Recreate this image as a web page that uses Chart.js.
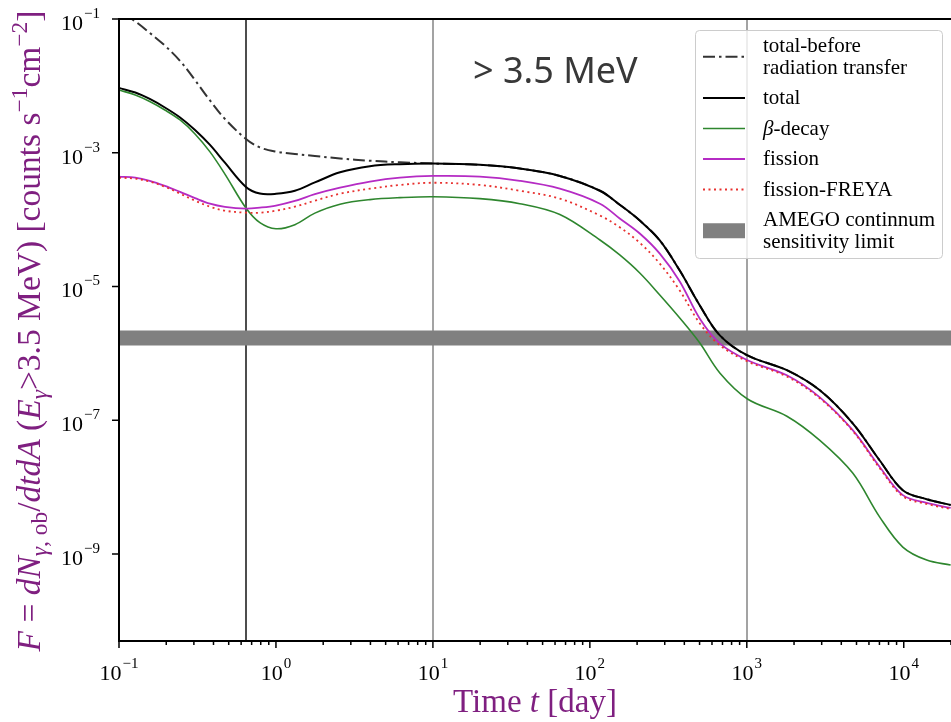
<!DOCTYPE html>
<html>
<head>
<meta charset="utf-8">
<title>Gamma-ray light curve above 3.5 MeV</title>
<script src="https://cdn.jsdelivr.net/npm/chart.js@4.4.0/dist/chart.umd.min.js"></script>
<style>
  html, body { margin: 0; padding: 0; background: #fff; overflow: hidden; }
</style>
</head>
<body>
<canvas id="chart" width="951" height="722"></canvas>
<script>
// Time after merger [day] and observed flux above 3.5 MeV [counts s^-1 cm^-2]
const times = [0.1, 0.127, 0.157, 0.196, 0.245, 0.305, 0.38, 0.473, 0.644, 0.79,
  1, 1.32, 1.77, 2.56, 3.97, 6.17, 10, 19.9, 35.8, 64.4,
  116, 155, 208, 279, 374, 502, 673, 1010, 1800, 2920,
  4730, 7030, 9860, 14000, 19900];

const totalBeforeRT = [0.136, 9.2e-2, 6.2e-2, 4.0e-2, 2.36e-2, 1.22e-2, 6.05e-3, 3.2e-3, 1.61e-3, 1.2e-3,
  1.04e-3, 9.6e-4, 8.95e-4, 8.2e-4, 7.6e-4, 7.2e-4, 6.9e-4, 6.6e-4, 5.8e-4, 4.5e-4,
  2.7e-4, 1.67e-4, 9.7e-5, 4.9e-5, 1.73e-5, 5.2e-6, 1.86e-6, 9.3e-7, 5.6e-7, 2.8e-7,
  9.0e-8, 2.5e-8, 9.0e-9, 6.6e-9, 5.4e-9];

const total = [9.3e-3, 7.96e-3, 6.37e-3, 4.75e-3, 3.37e-3, 2.19e-3, 1.31e-3, 7.1e-4, 3.08e-4, 2.45e-4,
  2.43e-4, 2.7e-4, 3.6e-4, 5.1e-4, 6.3e-4, 6.75e-4, 6.9e-4, 6.6e-4, 5.8e-4, 4.5e-4,
  2.7e-4, 1.67e-4, 9.7e-5, 4.9e-5, 1.73e-5, 5.2e-6, 1.86e-6, 9.3e-7, 5.6e-7, 2.8e-7,
  9.0e-8, 2.5e-8, 9.0e-9, 6.6e-9, 5.4e-9];

const betaDecay = [8.68e-3, 7.31e-3, 5.84e-3, 4.36e-3, 3.09e-3, 1.91e-3, 1.03e-3, 4.8e-4, 1.49e-4, 9.0e-5,
  7.3e-5, 8.4e-5, 1.25e-4, 1.7e-4, 1.99e-4, 2.13e-4, 2.2e-4, 2.06e-4, 1.73e-4, 1.19e-4,
  4.96e-5, 2.96e-5, 1.59e-5, 7.47e-6, 3.38e-6, 1.43e-6, 5.1e-7, 2.08e-7, 1.15e-7, 5.0e-8,
  1.62e-8, 3.56e-9, 1.27e-9, 8.1e-10, 6.85e-10];

const fission = [4.4e-4, 4.24e-4, 3.8e-4, 3.2e-4, 2.6e-4, 2.1e-4, 1.73e-4, 1.55e-4, 1.46e-4, 1.51e-4,
  1.62e-4, 1.9e-4, 2.4e-4, 3.0e-4, 3.7e-4, 4.24e-4, 4.5e-4, 4.4e-4, 3.8e-4, 2.9e-4,
  1.73e-4, 1.04e-4, 6.2e-5, 3.1e-5, 1.19e-5, 3.3e-6, 1.41e-6, 7.9e-7, 4.7e-7, 2.2e-7,
  7.1e-8, 2.0e-8, 7.6e-9, 5.8e-9, 4.9e-9];

const fissionFreya = [4.24e-4, 4.1e-4, 3.7e-4, 3.1e-4, 2.45e-4, 1.92e-4, 1.56e-4, 1.36e-4, 1.27e-4, 1.27e-4,
  1.36e-4, 1.56e-4, 1.92e-4, 2.44e-4, 2.9e-4, 3.3e-4, 3.56e-4, 3.3e-4, 2.7e-4, 2.06e-4,
  1.15e-4, 7.7e-5, 4.5e-5, 2.2e-5, 8.7e-6, 2.8e-6, 1.32e-6, 7.6e-7, 4.5e-7, 2.13e-7,
  6.9e-8, 1.92e-8, 7.3e-9, 5.6e-9, 4.7e-9];

// AMEGO continuum sensitivity and the vertical reference epochs [day]
const amegoLimit = 1.7e-6;
const markerDays = [0.644, 10, 1000];

// Axis ranges and labelled decades
const xMin = 0.1, xMax = 2e4;
const yMin = 5e-11, yMax = 0.1;
const xTickExps = [-1, 0, 1, 2, 3, 4];
const yTickExps = [-1, -3, -5, -7, -9];

const SERIF = '"Liberation Serif", "Times New Roman", serif';
const PURPLE = '#7f1f80';

const xTitle = [['Time ', 'r', 0], ['t', 'i', 0], [' [day]', 'r', 0]];
const yTitle = [
  ['F', 'i', 0], [' = ', 'r', 0], ['dN', 'i', 0], ['\u03b3', 'i', -1], [', ob', 'r', -1],
  ['/', 'r', 0], ['dtdA', 'i', 0], [' (', 'r', 0], ['E', 'i', 0], ['\u03b3', 'i', -1],
  ['>3.5 MeV) [counts s', 'r', 0], ['\u22121', 'r', 1], ['cm', 'r', 0], ['\u22122', 'r', 1], [']', 'r', 0]
];

const toPoints = ys => times.map((t, i) => ({ x: t, y: ys[i] }));

function font(size, italic) {
  return (italic ? 'italic ' : '') + size + 'px ' + SERIF;
}

// text made of roman/italic pieces with sub- and superscripts
function richWidth(ctx, parts, size) {
  let w = 0;
  parts.forEach(([txt, st, lvl]) => {
    ctx.font = font(lvl ? size * 0.7 : size, st === 'i');
    w += ctx.measureText(txt).width;
  });
  return w;
}

function drawRich(ctx, parts, x, y, size) {
  parts.forEach(([txt, st, lvl]) => {
    ctx.font = font(lvl ? size * 0.7 : size, st === 'i');
    const dy = lvl > 0 ? -size * 0.38 : lvl < 0 ? size * 0.22 : 0;
    ctx.fillText(txt, x, y + dy);
    x += ctx.measureText(txt).width;
  });
}

// "10" with a raised exponent; align: 'center' or 'right'
function drawPower(ctx, exp, x, y, align) {
  const expTxt = exp < 0 ? '\u2212' + (-exp) : String(exp);
  ctx.font = font(22, false);
  const wBase = ctx.measureText('10').width;
  ctx.font = font(15, false);
  const wExp = ctx.measureText(expTxt).width;
  const w = wBase + 1 + wExp;
  const left = align === 'center' ? x - w / 2 : x - w;
  ctx.font = font(22, false);
  ctx.fillText('10', left, y);
  ctx.font = font(15, false);
  ctx.fillText(expTxt, left + wBase + 1, y - 12);
}

function roundedRect(ctx, x, y, w, h, r) {
  ctx.beginPath();
  ctx.moveTo(x + r, y);
  ctx.lineTo(x + w - r, y);
  ctx.arcTo(x + w, y, x + w, y + r, r);
  ctx.lineTo(x + w, y + h - r);
  ctx.arcTo(x + w, y + h, x + w - r, y + h, r);
  ctx.lineTo(x + r, y + h);
  ctx.arcTo(x, y + h, x, y + h - r, r);
  ctx.lineTo(x, y + r);
  ctx.arcTo(x, y, x + r, y, r);
  ctx.closePath();
}

const axesPlugin = {
  id: 'axesDecor',
  beforeDatasetsDraw(chart) {
    const { ctx, chartArea: a, scales: { x } } = chart;
    ctx.save();
    markerDays.forEach((d, i) => {
      const px = Math.round(x.getPixelForValue(d));
      ctx.strokeStyle = i === 0 ? '#4d4d4d' : '#a3a3a3';
      ctx.lineWidth = 2;
      ctx.beginPath();
      ctx.moveTo(px, a.top);
      ctx.lineTo(px, a.bottom);
      ctx.stroke();
    });
    ctx.restore();
  },
  afterDraw(chart) {
    const { ctx, chartArea: a, scales: { x, y } } = chart;
    ctx.save();

    // spines (left, top, bottom)
    ctx.strokeStyle = '#000';
    ctx.lineWidth = 2;
    ctx.beginPath();
    ctx.moveTo(a.right + 2, a.top);
    ctx.lineTo(a.left, a.top);
    ctx.lineTo(a.left, a.bottom);
    ctx.lineTo(a.right + 2, a.bottom);
    ctx.stroke();

    // x ticks
    ctx.lineWidth = 1.5;
    ctx.beginPath();
    for (let e = -1; e <= 4; e++) {
      for (let k = 1; k <= 9; k++) {
        const v = k * Math.pow(10, e);
        if (v < xMin || v > xMax) continue;
        const px = x.getPixelForValue(v);
        ctx.moveTo(px, a.bottom);
        ctx.lineTo(px, a.bottom + (k === 1 ? 7 : 4));
      }
    }
    // y ticks
    yTickExps.forEach(e => {
      const py = y.getPixelForValue(Math.pow(10, e));
      ctx.moveTo(a.left - 7, py);
      ctx.lineTo(a.left, py);
    });
    ctx.stroke();

    // tick labels
    ctx.fillStyle = '#000';
    ctx.textBaseline = 'alphabetic';
    ctx.textAlign = 'left';
    xTickExps.forEach(e => drawPower(ctx, e, x.getPixelForValue(Math.pow(10, e)), a.bottom + 39, 'center'));
    yTickExps.forEach(e => drawPower(ctx, e, 100, y.getPixelForValue(Math.pow(10, e)) + 11, 'right'));

    // axis titles
    ctx.fillStyle = PURPLE;
    const xw = richWidth(ctx, xTitle, 33);
    drawRich(ctx, xTitle, (a.left + a.right) / 2 - xw / 2, 712, 33);
    const yw = richWidth(ctx, yTitle, 33.5);
    ctx.save();
    ctx.translate(40, (a.top + a.bottom) / 2 + 1);
    ctx.rotate(-Math.PI / 2);
    drawRich(ctx, yTitle, -yw / 2, 0, 33.5);
    ctx.restore();

    // energy band annotation
    ctx.fillStyle = '#383838';
    ctx.font = '36px "Noto Sans", sans-serif';
    ctx.fillText('> 3.5 MeV', 473, 83);

    // legend
    roundedRect(ctx, 695.5, 30.5, 247, 228, 4);
    ctx.fillStyle = 'rgba(255,255,255,0.8)';
    ctx.fill();
    ctx.strokeStyle = '#cccccc';
    ctx.lineWidth = 1;
    ctx.stroke();

    let base = 52;
    chart.data.datasets.forEach(ds => {
      const lines = ds.label.split('\n');
      const last = base + (lines.length - 1) * 21.5;
      const hy = (base + last) / 2 - 6;
      if (ds.isBand) {
        ctx.fillStyle = ds.borderColor;
        ctx.fillRect(703, hy - 7.5, 42, 15);
      } else {
        ctx.strokeStyle = ds.borderColor;
        ctx.lineWidth = ds.borderWidth;
        ctx.setLineDash(ds.borderDash || []);
        ctx.beginPath();
        ctx.moveTo(703, hy);
        ctx.lineTo(745, hy);
        ctx.stroke();
        ctx.setLineDash([]);
      }
      ctx.fillStyle = '#000';
      lines.forEach((ln, i) => {
        const ty = base + i * 21.5;
        if (ln.startsWith('\u03b2')) {
          drawRich(ctx, [['\u03b2', 'i', 0], [ln.slice(1), 'r', 0]], 763, ty, 21);
        } else {
          ctx.font = font(21, false);
          ctx.fillText(ln, 763, ty);
        }
      });
      base = last + 30.5;
    });

    ctx.restore();
  }
};

const lineDefaults = { pointRadius: 0, fill: false, clip: 0, tension: 0.35 };

new Chart(document.getElementById('chart'), {
  type: 'line',
  data: {
    datasets: [
      { ...lineDefaults, label: 'total-before\nradiation transfer', data: toPoints(totalBeforeRT),
        borderColor: '#333333', borderWidth: 2, borderDash: [12, 4, 2.5, 4], order: 4 },
      { ...lineDefaults, label: 'total', data: toPoints(total),
        borderColor: '#000000', borderWidth: 2, order: 3 },
      { ...lineDefaults, label: '\u03b2-decay', data: toPoints(betaDecay),
        borderColor: '#2e862e', borderWidth: 1.6, order: 2 },
      { ...lineDefaults, label: 'fission', data: toPoints(fission),
        borderColor: '#b52bc4', borderWidth: 1.8, order: 1 },
      { ...lineDefaults, label: 'fission-FREYA', data: toPoints(fissionFreya),
        borderColor: '#e8312f', borderWidth: 1.8, borderDash: [2, 3.5], order: 0 },
      { ...lineDefaults, label: 'AMEGO continnum\nsensitivity limit', isBand: true,
        data: [{ x: xMin, y: amegoLimit }, { x: xMax, y: amegoLimit }],
        borderColor: '#808080', borderWidth: 15, borderCapStyle: 'butt', order: 5 }
    ]
  },
  options: {
    responsive: false,
    animation: false,
    layout: { padding: { left: 119, top: 19, right: 0, bottom: 81 } },
    scales: {
      x: { type: 'logarithmic', min: xMin, max: xMax, display: false },
      y: { type: 'logarithmic', min: yMin, max: yMax, display: false }
    },
    plugins: { legend: { display: false }, tooltip: { enabled: false } }
  },
  plugins: [axesPlugin]
});
</script>
</body>
</html>
